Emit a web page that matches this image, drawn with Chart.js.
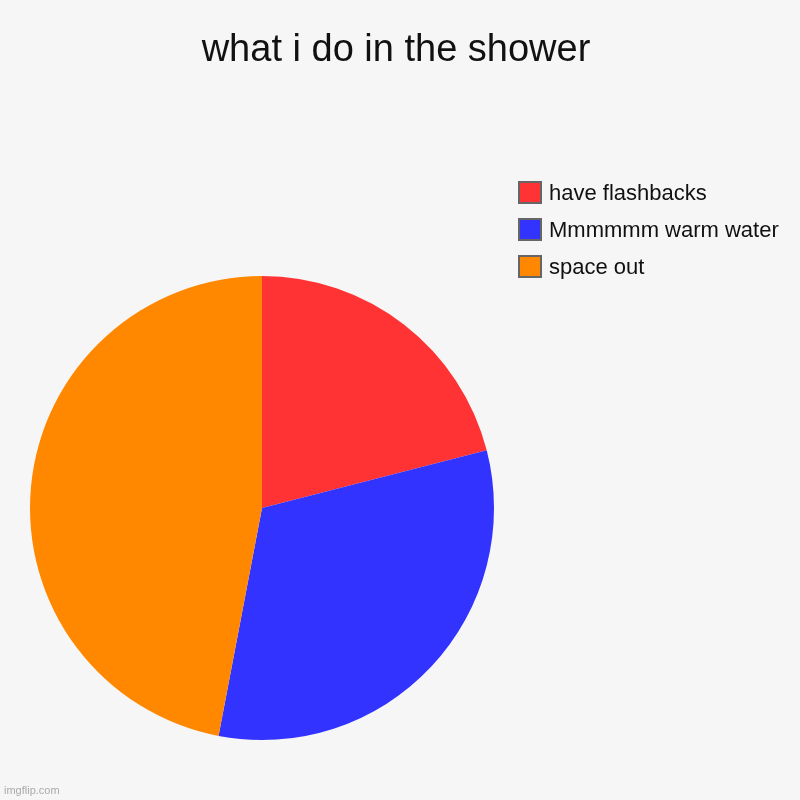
<!DOCTYPE html>
<html lang="en">
<head>
<meta charset="utf-8" />
<title>what i do in the shower</title>
<style>
	html, body { margin: 0; padding: 0; background: #f6f6f6; }
	#wrap { width: 800px; height: 800px; position: relative; }
</style>
<script src="https://cdn.jsdelivr.net/npm/chart.js@4/dist/chart.umd.min.js"></script>
</head>
<body>
<div id="wrap"><canvas id="chart" width="800" height="800"></canvas></div>
<script>
var title = "what i do in the shower";
var labels = ["have flashbacks", "Mmmmmm warm water", "space out"];
var values = [21, 32, 47];
var colors = ["#ff3333", "#3333ff", "#ff8800"];

// title, legend and watermark drawn by hand, the pie sits left like the original
var decor = {
	id: "decor",
	afterDraw: function(chart){
		var ctx = chart.ctx;
		ctx.save();
		ctx.fillStyle = "#111";
		ctx.font = "38px 'Liberation Sans', Arial, sans-serif";
		ctx.textAlign = "center";
		ctx.textBaseline = "alphabetic";
		ctx.fillText(title, 396, 61);

		ctx.font = "22px 'Liberation Sans', Arial, sans-serif";
		ctx.textAlign = "left";
		var ds = chart.data.datasets[0];
		chart.data.labels.forEach(function(lab, i){
			var y = 181 + i * 37;
			ctx.fillStyle = ds.backgroundColor[i];
			ctx.fillRect(519, y + 1, 22, 21);
			ctx.strokeStyle = "#666";
			ctx.lineWidth = 2;
			ctx.strokeRect(519, y + 1, 22, 21);
			ctx.fillStyle = "#111";
			ctx.fillText(lab, 549, y + 19);
		});

		ctx.fillStyle = "#aaa";
		ctx.font = "11px 'Liberation Sans', Arial, sans-serif";
		ctx.fillText("imgflip.com", 4, 794);
		ctx.restore();
	}
};

new Chart(document.getElementById("chart"), {
	type: "pie",
	data: {
		labels: labels,
		datasets: [{ data: values, backgroundColor: colors, borderWidth: 0 }]
	},
	options: {
		responsive: false,
		animation: false,
		layout: { padding: { left: 30, right: 306, top: 276, bottom: 60 } },
		plugins: {
			legend: { display: false },
			title: { display: false },
			tooltip: { enabled: false }
		}
	},
	plugins: [decor]
});
</script>
</body>
</html>
